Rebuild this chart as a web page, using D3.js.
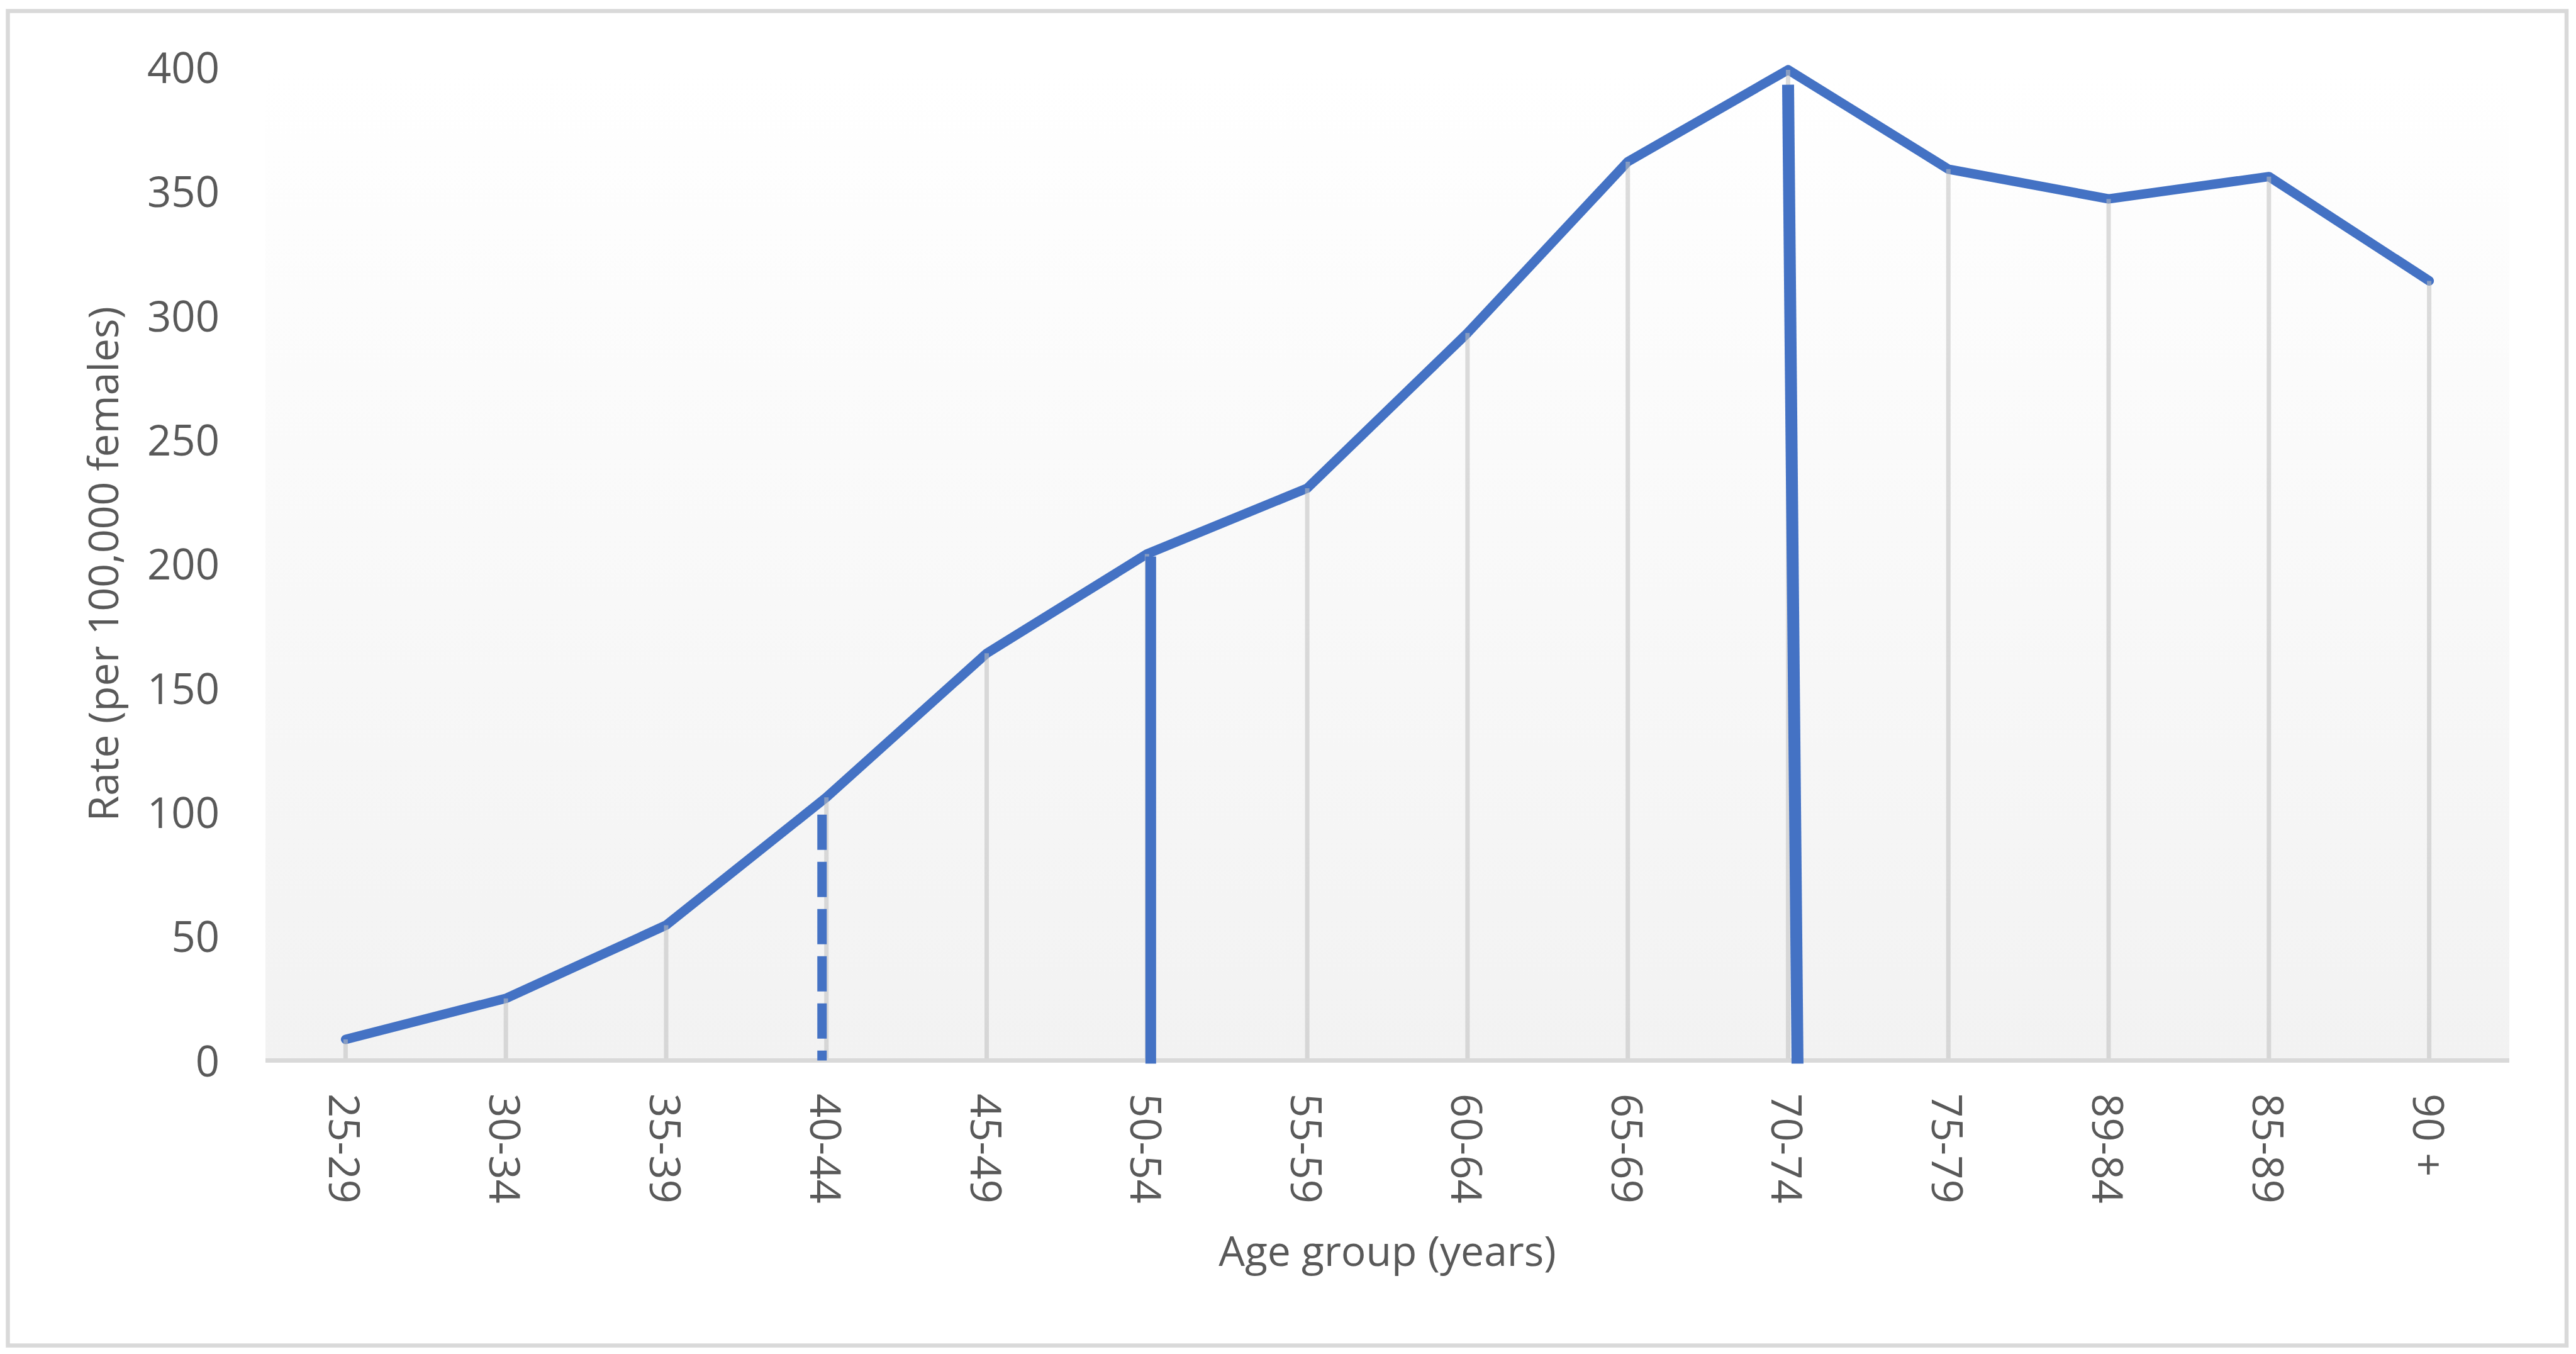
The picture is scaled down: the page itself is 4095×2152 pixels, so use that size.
<!DOCTYPE html>
<html>
<head>
<meta charset="utf-8">
<script src="https://cdn.jsdelivr.net/npm/d3@7"></script>
<style>
  html, body { margin: 0; padding: 0; background: #ffffff; }
  svg { display: block; }
  text { font-family: "Open Sans", "Noto Sans", sans-serif; fill: #595959; }
</style>
</head>
<body>
<script>
// ---- data ----
const categories = ["25-29","30-34","35-39","40-44","45-49","50-54","55-59","60-64","65-69","70-74","75-79","89-84","85-89","90 +"];
const rates = [8.5, 25, 54.5, 106, 164, 204, 230.5, 293, 362, 399, 359, 347, 356, 314];
const yTicks = [0, 50, 100, 150, 200, 250, 300, 350, 400];
const markerCats = ["40-44", "50-54", "70-74"];
const markerTops = [99, 203, 393];
const markerStyles = ["dashed", "solid", "solid"];
const xTitle = "Age group (years)";
const yTitle = "Rate (per 100,000 females)";

// ---- layout ----
const W = 4095, H = 2152;
const plot = { left: 422, right: 3989, top: 107, bottom: 1685.5 };
const blue = "#4472c4";
const fontSize = 67;

const svg = d3.select("body").append("svg").attr("width", W).attr("height", H);

// outer border
svg.append("rect")
  .attr("x", 12.5).attr("y", 17.5).attr("width", 4080 - 12.5).attr("height", 2138.5 - 17.5)
  .attr("fill", "#ffffff").attr("stroke", "#d9d9d9").attr("stroke-width", 6.5);

const x = d3.scaleBand().domain(categories).range([plot.left, plot.right]).padding(0);
const cx = c => x(c) + x.bandwidth() / 2;
const y = d3.scaleLinear().domain([0, 400]).range([plot.bottom, plot.top]);

// plot area gradient
const defs = svg.append("defs");
const grad = defs.append("linearGradient").attr("id", "pg").attr("x1", 0).attr("y1", 0).attr("x2", 0).attr("y2", 1);
grad.append("stop").attr("offset", "0%").attr("stop-color", "#ffffff");
grad.append("stop").attr("offset", "100%").attr("stop-color", "#f2f2f2");
svg.append("rect")
  .attr("x", plot.left).attr("y", plot.top)
  .attr("width", plot.right - plot.left).attr("height", plot.bottom - plot.top)
  .attr("fill", "url(#pg)");

// series line
const line = d3.line().x((d, i) => cx(categories[i])).y(d => y(d));
svg.append("path")
  .datum(rates)
  .attr("d", line)
  .attr("fill", "none")
  .attr("stroke", blue)
  .attr("stroke-width", 15)
  .attr("stroke-linejoin", "round")
  .attr("stroke-linecap", "round");

// drop lines
svg.append("g").selectAll("line")
  .data(rates)
  .join("line")
  .attr("x1", (d, i) => cx(categories[i])).attr("x2", (d, i) => cx(categories[i]))
  .attr("y1", d => y(d)).attr("y2", y(0))
  .attr("stroke", "#bfbfbf").attr("stroke-opacity", 0.55).attr("stroke-width", 7);

// x axis line
svg.append("line")
  .attr("x1", plot.left).attr("x2", plot.right)
  .attr("y1", y(0)).attr("y2", y(0))
  .attr("stroke", "#d9d9d9").attr("stroke-width", 7);

// vertical marker lines
const markerDx = [-7, 6, 0];
const markerSkew = [0, 0, 15];
const markerWidth = [15, 17, 19];
svg.append("g").selectAll("line")
  .data(markerCats)
  .join("line")
  .attr("x1", (c, i) => cx(c) + markerDx[i])
  .attr("x2", (c, i) => cx(c) + markerDx[i] + markerSkew[i])
  .attr("y1", (c, i) => y(markerTops[i]))
  .attr("y2", (c, i) => y(0) + (markerStyles[i] === "dashed" ? 0 : 5))
  .attr("stroke", blue)
  .attr("stroke-width", (c, i) => markerWidth[i])
  .attr("stroke-dasharray", (c, i) => markerStyles[i] === "dashed" ? "56,19" : null);

// y tick labels
svg.append("g").selectAll("text")
  .data(yTicks)
  .join("text")
  .attr("x", 349)
  .attr("y", d => y(d) + 25)
  .attr("text-anchor", "end")
  .attr("font-size", fontSize)
  .text(d => d);

// x tick labels (rotated)
svg.append("g").selectAll("text")
  .data(categories)
  .join("text")
  .attr("transform", c => `translate(${cx(c) - 26},1738) rotate(90)`)
  .attr("text-anchor", "start")
  .attr("font-size", fontSize)
  .text(c => c);

// axis titles
svg.append("text")
  .attr("x", (plot.left + plot.right) / 2)
  .attr("y", 2012)
  .attr("text-anchor", "middle")
  .attr("font-size", 66)
  .text(xTitle);

svg.append("text")
  .attr("transform", `translate(188,${(plot.top + plot.bottom) / 2}) rotate(-90)`)
  .attr("text-anchor", "middle")
  .attr("font-size", 66)
  .text(yTitle);
</script>
</body>
</html>
